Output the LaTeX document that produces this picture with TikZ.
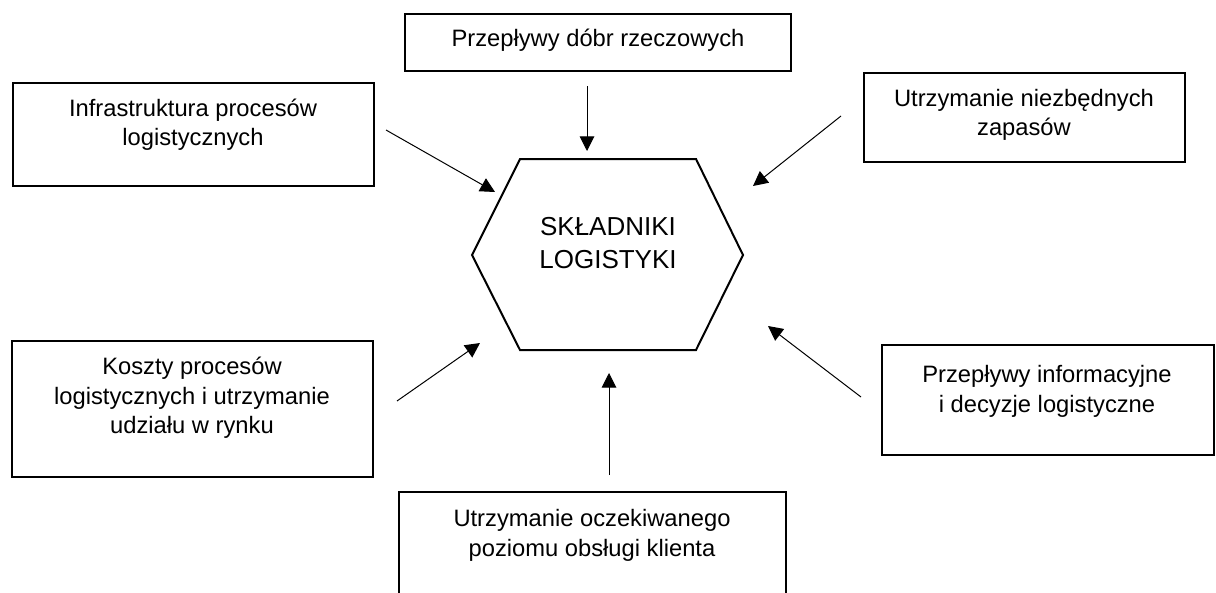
\documentclass[tikz,border=0pt]{standalone}
\usepackage{fontspec}
\setmainfont{Liberation Sans}
\usetikzlibrary{arrows.meta}
\begin{document}
\begin{tikzpicture}[x=0.75pt,y=-0.75pt,
  box/.style={draw=black, line width=1.5pt, rectangle, inner sep=0pt},
  txt/.style={align=center, anchor=base, inner sep=0pt, font=\fontsize{17.8pt}{22pt}\selectfont},
  hextxt/.style={align=center, anchor=base, inner sep=0pt, font=\fontsize{19.5pt}{24.5pt}\selectfont},
  hexline/.style={draw=black, line width=1.5pt, line join=miter},
  arr/.style={draw=black, line width=0.75pt, -{Triangle[length=11pt,width=11pt]}}]
\useasboundingbox (0,0) rectangle (1216,592);
\fill[white] (0,0) rectangle (1216,592);
\clip (0,0) rectangle (1216,592);
% boxes
\node[box, minimum width=386*0.75pt, minimum height=57*0.75pt] (b1) at (598,42.5) {};
\node[box, minimum width=361*0.75pt, minimum height=103*0.75pt] (b2) at (193.5,134.5) {};
\node[box, minimum width=321*0.75pt, minimum height=89*0.75pt] (b3) at (1024.5,117.5) {};
\node[box, minimum width=361*0.75pt, minimum height=136*0.75pt] (b4) at (192.5,409) {};
\node[box, minimum width=332*0.75pt, minimum height=110*0.75pt] (b5) at (1048,400) {};
\node[box, minimum width=387*0.75pt, minimum height=115*0.75pt] (b6) at (592.5,549.5) {};
% texts (anchor = baseline of last line)
\node[txt] (t1) at (598,46.5) {Przepływy dóbr rzeczowych};
\node[txt] (t2) at (193,145.5) {Infrastruktura procesów\\logistycznych};
\node[txt] (t3) at (1024,135.5) {Utrzymanie niezbędnych\\zapasów};
\node[txt] (t4) at (192,433.5) {Koszty procesów\\logistycznych i utrzymanie\\udziału w rynku};
\node[txt] (t5) at (1047,412) {Przepływy informacyjne\\i decyzje logistyczne};
\node[txt] (t6) at (592,556) {Utrzymanie oczekiwanego\\poziomu obsługi klienta};
% hexagon
\draw[hexline] (520,159) -- (696,159) -- (743,255) -- (696,350) -- (520,350) -- (472,255) -- cycle;
\node[hextxt] (hex) at (608,268.5) {SKŁADNIKI\\LOGISTYKI};
% arrow ends
\coordinate (a1s) at (587,86);   \coordinate (a1e) at (587,151);
\coordinate (a2s) at (386,130);  \coordinate (a2e) at (495,192);
\coordinate (a3s) at (841,116);  \coordinate (a3e) at (753,186);
\coordinate (a4s) at (397,401);  \coordinate (a4e) at (480,343);
\coordinate (a5s) at (609,475);  \coordinate (a5e) at (609,373);
\coordinate (a6s) at (861,397);  \coordinate (a6e) at (768,326);
\draw[arr] (a1s) -- (a1e);
\draw[arr] (a2s) -- (a2e);
\draw[arr] (a3s) -- (a3e);
\draw[arr] (a4s) -- (a4e);
\draw[arr] (a5s) -- (a5e);
\draw[arr] (a6s) -- (a6e);
\end{tikzpicture}
\end{document}
